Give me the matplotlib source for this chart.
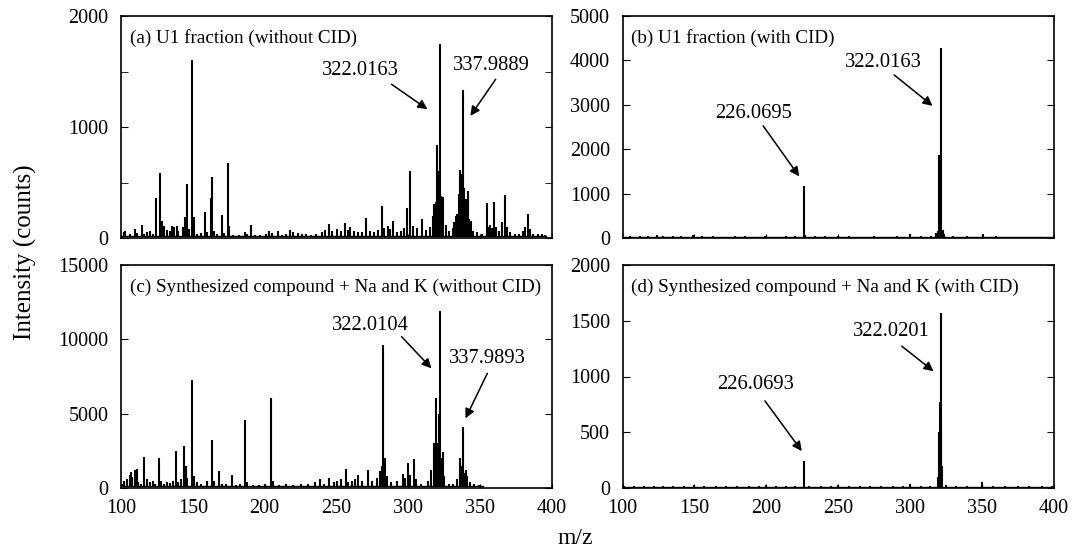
import matplotlib
matplotlib.use("Agg")
import matplotlib.pyplot as plt
from matplotlib.ticker import MultipleLocator

plt.rcParams['font.family'] = ['Liberation Serif', 'DejaVu Serif']

# (a) U1 fraction, without CID
a_mz = [102, 103, 106, 109.5, 111, 114.4, 116, 118, 120.4, 122, 124.3, 127.3, 128.7, 130,
        132, 134, 135.4, 137, 138.9, 140, 143, 144.7, 145.9, 147, 149.6, 151, 153, 156,
        158.6, 160, 162.3, 163.5, 165, 167, 170.4, 172, 174.6, 175.5, 178, 182, 186.6, 188,
        190.6, 193, 197, 201, 203.3, 205, 209.6, 212, 215, 217.7, 220, 223, 226, 229, 232,
        236, 240, 242, 244.6, 247, 250.6, 253, 255.9, 258, 259.4, 262, 265, 268, 270.3, 273,
        276, 279, 281.6, 283, 286, 287.5, 289.3, 292, 295, 297, 299.3, 301.5, 303, 306,
        309.4, 312, 315, 317, 318, 319.2, 320.3, 321.3, 322.2, 323, 324, 326, 328, 331,
        332.1, 333, 334.2, 335, 335.8, 337, 338.1, 339, 340, 341.2, 342.3, 343.5, 345, 348,
        351, 354.8, 355.8, 357, 358, 359.5, 361, 363, 365.3, 367.1, 368.5, 371, 374, 377,
        380, 381, 383.3, 384.5, 387, 390, 393, 395]
a_int = [50, 66, 35, 81, 45, 120, 40, 55, 66, 40, 357, 588, 150, 110,
         70, 60, 105, 100, 105, 60, 100, 192, 486, 80, 1601, 190, 40, 45,
         237, 50, 357, 552, 60, 40, 204, 45, 675, 111, 30, 30, 57, 35,
         120, 25, 30, 40, 66, 45, 60, 30, 40, 75, 50, 45, 40, 40, 30,
         35, 50, 70, 126, 60, 81, 60, 135, 70, 96, 60, 55, 50, 180, 60,
         55, 70, 288, 90, 105, 80, 156, 50, 60, 90, 273, 600, 110, 90,
         171, 70, 96, 200, 306, 321, 840, 600, 1751, 380, 366, 120, 60, 90,
         141, 200, 216, 400, 612, 576, 1331, 450, 351, 420, 171, 150, 60, 50,
         40, 312, 96, 120, 90, 324, 100, 60, 147, 390, 100, 50, 40, 40,
         60, 96, 216, 80, 40, 35, 40, 30]

# (b) U1 fraction, with CID
b_mz = [105, 112, 118, 123.7, 128, 135, 141, 149.2, 155, 163, 170, 178, 185, 192, 199, 205,
        214, 220, 226.07, 227, 234, 241, 249.7, 258, 266, 275, 283, 291, 300, 308, 315,
        318, 319.3, 320.2, 321, 322.0, 323, 324, 330, 340, 350.6, 360, 370, 380, 390, 398]
b_int = [40, 35, 40, 60, 35, 45, 40, 70, 35, 40, 30, 40, 35, 30, 55, 30,
         40, 35, 1162, 60, 40, 35, 55, 40, 30, 35, 30, 40, 90, 35, 40,
         120, 150, 1874, 250, 4273, 190, 100, 40, 35, 90, 35, 30, 30, 30, 30]

# (c) synthesized compound + Na and K, without CID
c_mz = [100.5, 102, 104, 106, 107, 108, 109.7, 111, 112, 114, 116, 118, 120, 122, 124,
        126.2, 128, 130, 132, 134, 136, 138, 140, 142, 144, 145, 146, 149.6, 151, 153,
        156, 160, 163, 165, 167.9, 170, 173, 177.4, 180, 183, 186, 188, 192, 196, 200,
        204.5, 206, 210, 215, 220, 225, 230, 235, 238.5, 241, 245, 248, 250, 253, 256.4,
        258, 261, 263, 265.2, 268, 272, 275, 278, 280.2, 281.5, 282.6, 283.5, 285, 288,
        292, 296.4, 298, 299.9, 301, 303.8, 305, 309, 314, 316, 317.8, 318.8, 319.6,
        320.5, 321.2, 322.0, 322.8, 323.8, 325, 328, 331, 334, 335.8, 336.8, 337.9, 338.8,
        339.8, 341, 343, 346, 349, 352]
c_int = [300, 500, 600, 900, 1100, 762, 1210, 1255, 400, 300, 2108, 600, 400, 500, 300,
         1995, 500, 300, 400, 350, 500, 2489, 400, 600, 2847, 1500, 700, 7264, 800, 400,
         300, 500, 3229, 500, 1166, 300, 300, 852, 200, 250, 4551, 400, 200, 200, 300,
         6076, 500, 200, 300, 200, 300, 250, 400, 605, 300, 700, 400, 500, 600, 1255,
         400, 500, 600, 874, 500, 1210, 500, 700, 1121, 1500, 9618, 2000, 800, 400,
         500, 942, 700, 1704, 900, 1928, 600, 300, 500, 1200, 3049, 2500, 6076,
         3000, 5000, 11927, 2000, 2444, 800, 300, 300, 600, 1995, 1500, 4103, 1000,
         1210, 800, 400, 300, 200, 150]

# (d) synthesized compound + Na and K, with CID
d_mz = [101, 108, 115, 122, 128, 135, 143, 150, 157, 165, 172, 180, 188, 195, 200, 207,
        214, 220, 226.07, 230, 238, 245, 250, 258, 265, 272, 280, 288, 295, 300, 308, 314,
        319.5, 320.2, 321.0, 321.5, 322.0, 322.6, 325, 332, 340, 350, 358, 366, 375, 383,
        392, 399]
d_int = [15, 15, 18, 22, 16, 20, 18, 28, 15, 18, 15, 18, 15, 20, 25, 15,
         18, 15, 244, 15, 18, 15, 25, 15, 18, 15, 18, 15, 18, 40, 15, 20,
         100, 500, 767, 600, 1573, 200, 30, 15, 18, 50, 15, 18, 15, 18,
         15, 15]

# approximate baseline levels (start, end of recorded trace, level)
a_base = [100, 396, 18]
b_base = [100, 400, 15]
c_base = [100, 352, 120]
d_base = [100, 400, 8]

fig = plt.figure(figsize=(10.74, 5.54), dpi=100)
W, H = 1074, 554
col_x = [121 / W, 622.5 / W]
w = 431 / W
ax_a = fig.add_axes([col_x[0], 1 - 238 / H, w, 222 / H])
ax_b = fig.add_axes([col_x[1], 1 - 238 / H, w, 222 / H])
ax_c = fig.add_axes([col_x[0], 1 - 488 / H, w, 223 / H])
ax_d = fig.add_axes([col_x[1], 1 - 488 / H, w, 223 / H])


def draw(ax, mz, inten, base, ymax, major, minor, title):
    ax.plot([base[0], base[1]], [base[2], base[2]], color='black', lw=1.0)
    ax.vlines(mz, base[2], inten, color='black', lw=1.5)
    ax.set_xlim(100, 400)
    ax.set_ylim(0, ymax)
    ax.yaxis.set_major_locator(MultipleLocator(major))
    if minor:
        ax.yaxis.set_minor_locator(MultipleLocator(minor))
    ax.xaxis.set_major_locator(MultipleLocator(50))
    ax.tick_params(axis='both', which='both', direction='in', labelsize=14.5,
                   left=True, right=True, top=False, bottom=True)
    ax.tick_params(axis='y', which='major', length=5, pad=9)
    ax.tick_params(axis='y', which='minor', length=5)
    ax.tick_params(axis='x', length=3, pad=8)
    for s in ax.spines.values():
        s.set_linewidth(1.2)
    ax.text(0.02, 0.94, title, transform=ax.transAxes, fontsize=13.8,
            ha='left', va='top')


def mark(ax, label, txt_xy, start, end):
    ax.text(txt_xy[0], txt_xy[1], label, fontsize=14.8, ha='center', va='center')
    ax.annotate('', xy=end, xytext=start,
                arrowprops=dict(arrowstyle='-|>', color='black', lw=1.1,
                                mutation_scale=14, shrinkA=0, shrinkB=0))


draw(ax_a, a_mz, a_int, a_base, 2000, 1000, 500, '(a) U1 fraction (without CID)')
draw(ax_b, b_mz, b_int, b_base, 5000, 1000, None, '(b) U1 fraction (with CID)')
draw(ax_c, c_mz, c_int, c_base, 15000, 5000, None,
     '(c) Synthesized compound + Na and K (without CID)')
draw(ax_d, d_mz, d_int, d_base, 2000, 500, None,
     '(d) Synthesized compound + Na and K (with CID)')

ax_a.set_xticklabels([])
ax_b.set_xticklabels([])

mark(ax_a, '322.0163', (266.6, 1505), (288.3, 1385), (313.3, 1160))
mark(ax_a, '337.9889', (357.8, 1550), (360.8, 1430), (343.2, 1100))
mark(ax_b, '322.0163', (281.4, 3950), (289.1, 3673), (315.8, 2976))
mark(ax_b, '226.0695', (191.0, 2811), (197.9, 2526), (223.0, 1387))
mark(ax_c, '322.0104', (273.3, 10964), (295.3, 10179), (316.1, 8049))
mark(ax_c, '337.9893', (354.8, 8721), (355.0, 7712), (339.8, 4686))
mark(ax_d, '322.0201', (287.2, 1407), (294.4, 1272), (316.5, 1047))
mark(ax_d, '226.0693', (192.3, 926), (199.1, 782), (224.8, 331))

fig.text(25 / W, 1 - 252 / H, 'Intensity (counts)', rotation=90, fontsize=18,
         ha='center', va='center')
fig.text(575 / W, 1 - 538 / H, 'm/z', fontsize=17, ha='center', va='center')

fig.savefig('out.png', dpi=100)
